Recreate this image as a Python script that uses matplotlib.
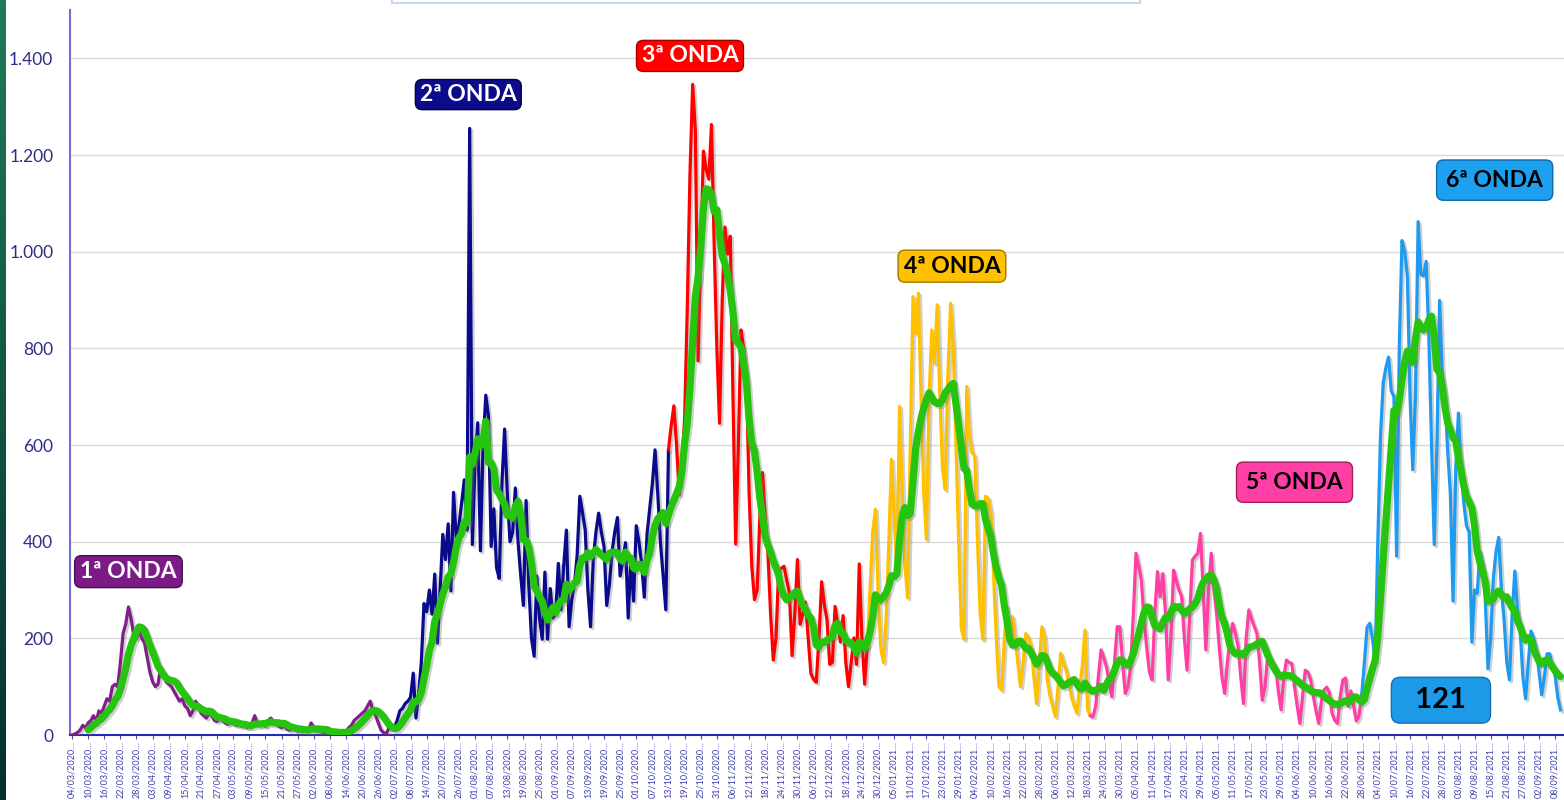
import numpy as np
import pandas as pd
import matplotlib
matplotlib.use('Agg')
import matplotlib.pyplot as plt
import matplotlib.patheffects as pe
from matplotlib.patches import Rectangle
from matplotlib.ticker import FuncFormatter

# daily values per wave (one value per day, starting 04/03/2020)
wave1 = [0, 2, 5, 10, 20, 15, 25, 30, 40, 28,
         50, 45, 60, 75, 70, 100, 105, 100, 150, 210,
         230, 265, 240, 205, 200, 215, 200, 190, 160, 130,
         110, 100, 105, 140, 130, 110, 105, 100, 90, 80,
         70, 75, 60, 55, 40, 50, 70, 60, 45, 40,
         35, 45, 40, 30, 28, 35, 30, 25, 22, 28,
         25, 20, 22, 18, 20, 15, 18, 25, 40, 22,
         20, 25, 18, 30, 35, 28, 22, 18, 15, 20,
         12, 10, 15, 12, 8, 10, 12, 8, 10, 25,
         15, 8, 10, 6, 5, 8, 5, 4, 6, 5,
         4, 6, 8, 15, 20, 30, 35, 40, 45, 50,
         60, 70, 50, 40, 25, 10, 5, 3]
wave2 = [15, 20,
         15, 30, 50, 55, 65, 70, 78, 128, 35, 85,
         150, 272, 255, 300, 250, 333, 190, 300, 415, 363,
         437, 298, 502, 407, 433, 480, 528, 424, 1255, 394,
         563, 646, 381, 600, 703, 660, 390, 468, 346, 324,
         520, 633, 500, 400, 420, 511, 400, 330, 268, 485,
         311, 200, 163, 329, 242, 198, 337, 198, 303, 242,
         250, 355, 259, 350, 424, 224, 280, 311, 372, 494,
         460, 424, 300, 224, 363, 420, 459, 420, 390, 268,
         311, 380, 420, 450, 329, 360, 398, 242, 363, 277,
         433, 400, 355, 285, 415, 468, 520, 590, 500, 398, 330, 259]
wave3 = [590, 640, 681, 600, 497, 560, 654, 885,
         1162, 1346, 1250, 774, 1000, 1208, 1171, 1150, 1263, 1014,
         800, 645, 900, 1051, 995, 1032, 700, 395, 600, 838,
         800, 746, 500, 350, 280, 300, 450, 543, 450, 377,
         250, 155, 200, 340, 345, 349, 320, 294, 164, 250,
         363, 229, 250, 275, 200, 127, 115, 109, 200, 317,
         270, 238, 146, 150, 266, 230, 192, 247, 150, 100,
         150, 201, 146, 354, 200, 105]
wave4 = [184, 300, 420, 467,
         300, 180, 150, 240, 400, 570, 450, 343, 680, 500,
         350, 284, 600, 907, 831, 914, 700, 500, 405, 700,
         838, 769, 890, 700, 550, 508, 750, 893, 800, 600,
         400, 220, 198, 721, 620, 584, 577, 400, 250, 198,
         494, 490, 460, 331, 200, 100, 93, 200, 265, 200,
         245, 200, 150, 100, 150, 210, 200, 183, 120, 65,
         150, 224, 200, 114, 80, 60, 38, 100, 169, 150,
         134, 110, 79, 60, 45, 100, 141, 217, 52]
wave5 = [40,
         38, 60, 120, 176, 160, 141, 110, 79, 150, 224,
         224, 150, 86, 100, 141, 250, 376, 350, 320, 238,
         180, 130, 114, 250, 338, 286, 334, 250, 114, 200,
         341, 320, 300, 286, 200, 134, 250, 362, 370, 376,
         417, 300, 176, 300, 376, 300, 252, 180, 120, 86,
         150, 200, 231, 210, 183, 120, 65, 200, 259, 240,
         225, 210, 150, 72, 100, 162, 155, 150, 141, 90,
         52, 120, 155, 150, 148, 100, 60, 24, 80, 134,
         130, 114, 80, 50, 24, 70, 93, 99, 86, 44,
         30, 24, 80, 114, 118, 59, 91, 60, 29, 40]
wave6 = [83, 150, 223, 231, 200, 153, 400, 619, 728, 760,
         782, 712, 700, 370, 805, 1023, 1000, 950, 700, 549,
         700, 1062, 953, 950, 980, 821, 600, 394, 600, 899,
         743, 700, 588, 500, 277, 550, 666, 550, 480, 433,
         420, 192, 300, 293, 380, 355, 280, 137, 200, 324,
         380, 409, 300, 238, 150, 114, 250, 339, 260, 215,
         120, 75, 150, 215, 200, 176, 130, 83, 120, 168,
         168, 140, 122, 77, 52]

waves = [wave1, wave2, wave3, wave4, wave5, wave6]
wave_colors = ['#7f1f87', '#0a0a8c', '#ff0000', '#ffc000', '#ff3fa4', '#1e9bf0']

labels = ['1ª ONDA', '2ª ONDA', '3ª ONDA', '4ª ONDA', '5ª ONDA', '6ª ONDA']
label_fc = ['#7b1b85', '#0c0c8a', '#ff0000', '#ffc000', '#ff3fa6', '#1ea0f0']
label_ec = ['#4a0f50', '#05054a', '#a00000', '#a07800', '#a0205e', '#0f6aa8']
label_tc = ['white', 'white', 'white', 'black', 'black', 'black']
label_pos = [(21, 338), (147.5, 1325), (230, 1405), (327.5, 970), (455, 523), (529.5, 1148)]
label_pad = [0.24, 0.2, 0.22, 0.24, 0.42, 0.42]

# tick labels, every 6 days
ticks_2020 = ['04/03', '10/03', '16/03', '22/03', '28/03', '03/04', '09/04', '15/04', '21/04',
              '27/04', '03/05', '09/05', '15/05', '21/05', '27/05', '02/06', '08/06', '14/06',
              '20/06', '26/06', '02/07', '08/07', '14/07', '20/07', '26/07', '01/08', '07/08',
              '13/08', '19/08', '25/08', '01/09', '07/09', '13/09', '19/09', '25/09', '01/10',
              '07/10', '13/10', '19/10', '25/10', '31/10', '06/11', '12/11', '18/11', '24/11',
              '30/11', '06/12', '12/12', '18/12', '24/12', '30/12']
ticks_2021 = ['05/01', '11/01', '17/01', '23/01', '29/01', '04/02', '10/02', '16/02', '22/02',
              '28/02', '06/03', '12/03', '18/03', '24/03', '30/03', '05/04', '11/04', '17/04',
              '23/04', '29/04', '05/05', '11/05', '17/05', '23/05', '29/05', '04/06', '10/06',
              '16/06', '22/06', '28/06', '04/07', '10/07', '16/07', '22/07', '28/07', '03/08',
              '09/08', '15/08', '21/08', '27/08', '02/09', '08/09']
tick_labels = [d + '/2020…' for d in ticks_2020] + [d + '/2021…' for d in ticks_2021]

daily = np.concatenate([np.array(w, dtype=float) for w in waves])
avg7 = pd.Series(daily).rolling(7).mean()
last_avg = int(round(avg7.iloc[-1]))

fig = plt.figure(figsize=(15.64, 8), dpi=100)
fig.patch.set_facecolor('white')
ax = fig.add_axes([70 / 1564, 65 / 800, 1494 / 1564, 725 / 800])

shadow = [pe.SimpleLineShadow(offset=(1.5, -1.5), shadow_color='#777777', alpha=0.35), pe.Normal()]

start = 0
for w, c in zip(waves, wave_colors):
    end = min(start + len(w) + 1, len(daily))
    x = np.arange(start, end)
    ax.plot(x, daily[start:end], color=c, lw=2.3, solid_joinstyle='round', path_effects=shadow, zorder=3)
    start += len(w)

ax.plot(np.arange(len(daily)), avg7, color='#26c40f', lw=5.2, solid_joinstyle='round',
        solid_capstyle='round', path_effects=shadow, zorder=5)

# wave boxes
for txt, (xp, yp), fc, ec, tc, pd_ in zip(labels, label_pos, label_fc, label_ec, label_tc, label_pad):
    ax.text(xp, yp, txt, ha='center', va='center', fontsize=16.5, fontweight='bold', color=tc,
            family=['Lato', 'DejaVu Sans'], zorder=6,
            bbox=dict(boxstyle=f'round,pad={pd_},rounding_size=0.3', fc=fc, ec=ec, lw=1))
ax.text(509.5, 72, f'  {last_avg}  ', ha='center', va='center', fontsize=21, fontweight='bold',
        color='black', family=['Lato', 'DejaVu Sans'], zorder=6,
        bbox=dict(boxstyle='round,pad=0.34,rounding_size=0.3', fc='#1e9be8', ec='#1670b0', lw=1))

ax.set_xlim(-0.75, 555.3)
ax.set_ylim(0, 1500)
ax.set_yticks(np.arange(0, 1401, 200))
ax.yaxis.set_major_formatter(FuncFormatter(lambda v, p: f'{int(v):,}'.replace(',', '.')))
ax.yaxis.grid(True, color='#d9d9d9', lw=1)
ax.set_axisbelow(True)
ax.tick_params(axis='y', length=0, pad=12, labelsize=12.5, labelcolor='#2e2e8a')
for lab in ax.get_yticklabels():
    lab.set_family(['Lato', 'DejaVu Sans'])

ax.set_xticks(np.arange(0, len(tick_labels) * 6, 6))
ax.set_xticklabels(tick_labels, rotation=90, fontsize=6.5, color='#4040b0', family=['Lato', 'DejaVu Sans'])
ax.tick_params(axis='x', length=3, color='#4a4ab0', pad=1.5)

ax.spines['top'].set_visible(False)
ax.spines['right'].set_visible(False)
ax.spines['left'].set_color('#7070d0')
ax.spines['left'].set_linewidth(1.5)
ax.spines['bottom'].set_color('#2a2ab0')
ax.spines['bottom'].set_linewidth(1.5)

# dark strip on the left edge
strip = fig.add_axes([0, 0, 6 / 1564, 1])
grad = np.linspace(0, 1, 100).reshape(-1, 1)
strip.imshow(grad, aspect='auto', cmap=matplotlib.colors.LinearSegmentedColormap.from_list('s', ['#1f7a58', '#06302e']))
strip.axis('off')

# bottom edge of the title box, cut off at the top
fig.patches.append(Rectangle((392 / 1564, 1 - 3 / 800), (1140 - 392) / 1564, 0.2,
                             transform=fig.transFigure, fc='white', ec='#c6d9f0', lw=1.5))

fig.savefig('out.png', dpi=100)
